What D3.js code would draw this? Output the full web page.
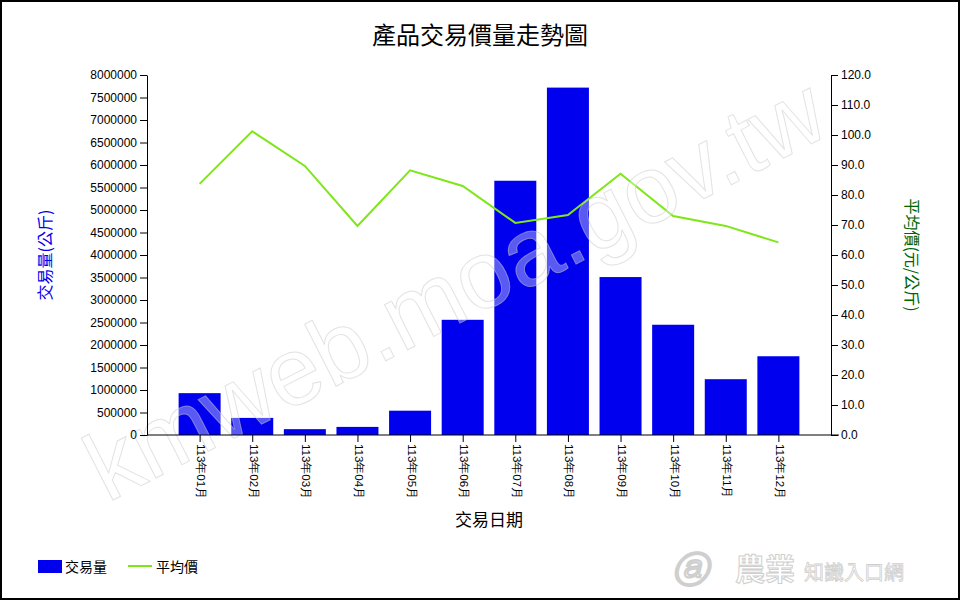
<!DOCTYPE html>
<html><head><meta charset="utf-8">
<script src="https://cdn.jsdelivr.net/npm/d3@7"></script>
<style>body{margin:0;background:#fff}svg{display:block}</style>
</head><body>
<script>
const months = ["113年01月","113年02月","113年03月","113年04月","113年05月","113年06月","113年07月","113年08月","113年09月","113年10月","113年11月","113年12月"];
const volume = [930000,380000,130000,180000,540000,2560000,5650000,7720000,3510000,2450000,1240000,1750000];
const price = [83.7,101.2,89.7,69.7,88.2,83.0,70.7,73.3,87.1,73.0,69.7,64.2];
const volTicks = [0,500000,1000000,1500000,2000000,2500000,3000000,3500000,4000000,4500000,5000000,5500000,6000000,6500000,7000000,7500000,8000000];
const priceTicks = [0,10,20,30,40,50,60,70,80,90,100,110,120];

const W=960,H=600, L=147, R=831, T=75, B=435;
const svg=d3.select("body").append("svg").attr("width",W).attr("height",H);
svg.append("rect").attr("x",1).attr("y",1).attr("width",W-2).attr("height",H-2).attr("fill","#fff").attr("stroke","#000").attr("stroke-width",2);

const x=d3.scalePoint().domain(months).range([L,R]).padding(1);
const yV=d3.scaleLinear().domain([0,8000000]).range([B,T]);
const yP=d3.scaleLinear().domain([0,120]).range([B,T]);
const bw=42;
const font="Arial, 'Liberation Sans', sans-serif";
const cjk="'Noto Sans CJK TC', sans-serif";

svg.append("text").attr("x",480).attr("y",44).attr("text-anchor","middle").attr("font-family",cjk).attr("font-size",24).text("產品交易價量走勢圖");

svg.append("g").selectAll("rect").data(volume).join("rect")
 .attr("x",(d,i)=>x(months[i])-bw/2).attr("width",bw)
 .attr("y",d=>yV(d)).attr("height",d=>B-yV(d)).attr("fill","#0000ee");

svg.append("path").datum(price).attr("fill","none").attr("stroke","#7ee619").attr("stroke-width",2)
 .attr("d",d3.line().x((d,i)=>x(months[i])).y(d=>yP(d)));

// watermark
svg.append("text").attr("transform","translate(470,318) rotate(-27)").attr("text-anchor","middle")
 .attr("font-family",font).attr("font-size",96).attr("fill","#fff").attr("fill-opacity",0.35)
 .attr("stroke","#c8c8c8").attr("stroke-opacity",0.5).attr("stroke-width",1).text("kmweb.moa.gov.tw");

const gl=svg.append("g").attr("transform",`translate(${L},0)`)
 .call(d3.axisLeft(yV).tickValues(volTicks).tickSize(7).tickSizeOuter(0).tickFormat(d3.format("d")));
gl.selectAll("text").attr("font-family",font).attr("font-size",12).attr("fill","#000");
const gr=svg.append("g").attr("transform",`translate(${R},0)`)
 .call(d3.axisRight(yP).tickValues(priceTicks).tickSize(7).tickSizeOuter(0).tickFormat(d3.format(".1f")));
gr.selectAll("text").attr("font-family",font).attr("font-size",12).attr("fill","#000");
const gx=svg.append("g").attr("transform",`translate(0,${B})`)
 .call(d3.axisBottom(x).tickSize(7).tickSizeOuter(0));
gx.select(".domain").attr("d",`M${L},0H${R+8}`);
gx.selectAll("text").attr("font-family",font).attr("font-size",11.5).attr("fill","#000")
 .attr("transform","rotate(90)").attr("x",9).attr("y",-1).attr("dy","0.35em").attr("text-anchor","start");

svg.append("text").attr("transform","translate(51,255) rotate(-90)").attr("text-anchor","middle")
 .attr("font-family",cjk).attr("font-size",16).attr("fill","#0000ee").text("交易量(公斤)");
svg.append("text").attr("transform","translate(906,255) rotate(90)").attr("text-anchor","middle")
 .attr("font-family",cjk).attr("font-size",16).attr("fill","#006400").text("平均價(元/公斤)");
svg.append("text").attr("x",489).attr("y",526).attr("text-anchor","middle")
 .attr("font-family",cjk).attr("font-size",17).attr("fill","#000").text("交易日期");

// legend
const lg=svg.append("g").attr("font-family",cjk).attr("font-size",14);
lg.append("rect").attr("x",38).attr("y",560).attr("width",24).attr("height",13).attr("fill","#0000ee");
lg.append("text").attr("x",65).attr("y",572).text("交易量");
lg.append("line").attr("x1",128).attr("x2",152).attr("y1",566).attr("y2",566).attr("stroke","#7ee619").attr("stroke-width",2);
lg.append("text").attr("x",156).attr("y",572).text("平均價");

// logo watermark
svg.append("text").attr("x",735).attr("y",580).attr("font-family",cjk).attr("font-size",30).attr("font-weight","bold")
 .attr("fill","#fff").attr("stroke","#cfcfcf").attr("stroke-width",1).text("農業");
svg.append("text").attr("x",804).attr("y",580).attr("font-family",cjk).attr("font-size",20)
 .attr("fill","#fff").attr("stroke","#cfcfcf").attr("stroke-width",0.8).text("知識入口網");
svg.append("text").attr("x",672).attr("y",582).attr("font-family",font).attr("font-size",36).attr("font-style","italic").attr("font-weight","bold")
 .attr("fill","#fff").attr("stroke","#cfcfcf").attr("stroke-width",1).text("ⓐ");
</script>
</body></html>
